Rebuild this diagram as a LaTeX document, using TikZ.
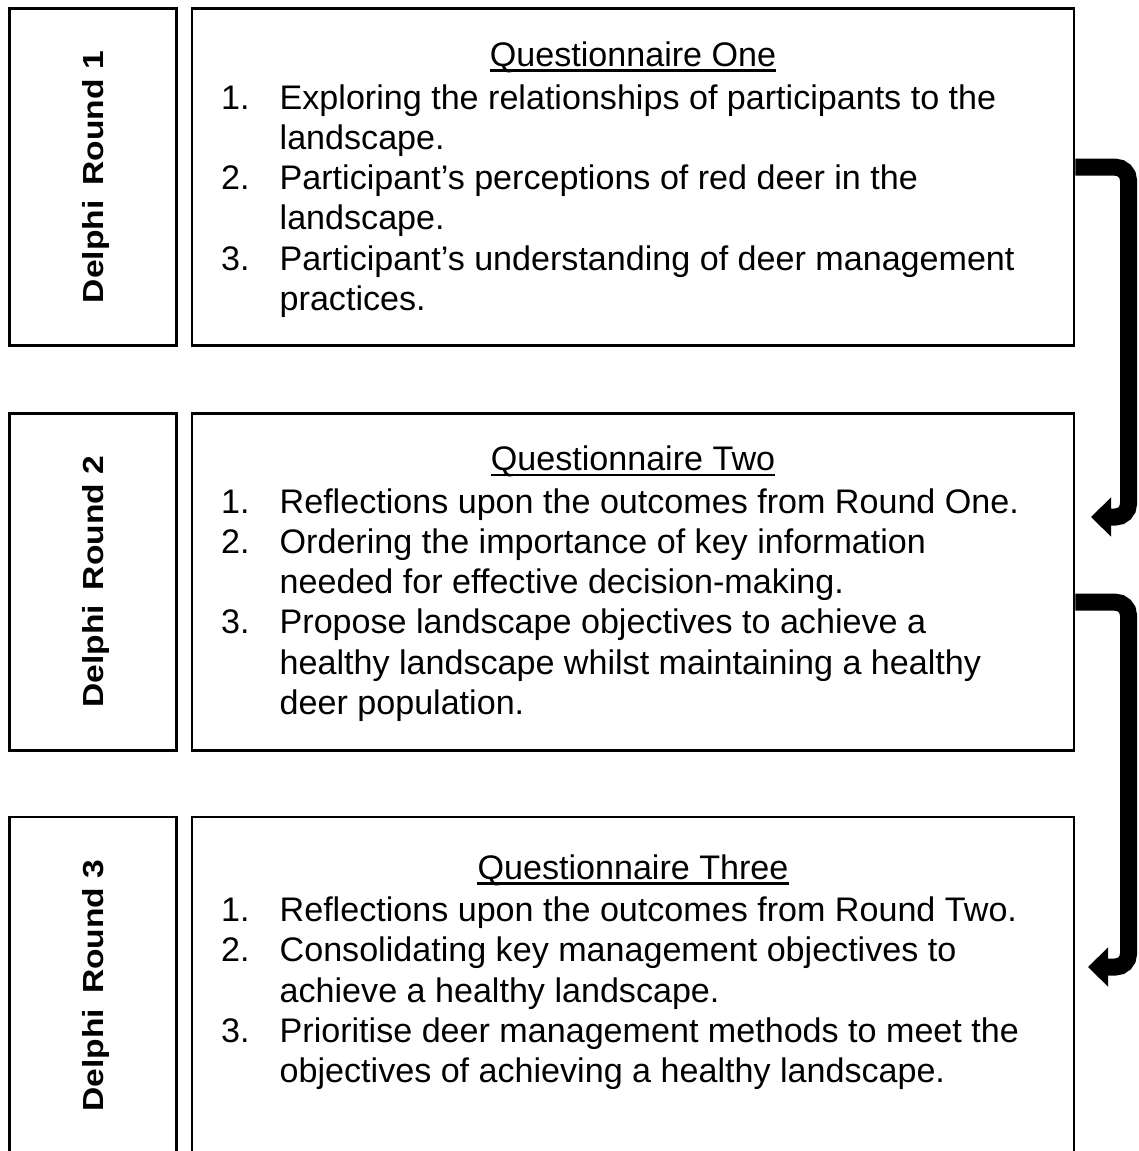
\documentclass[tikz,border=0pt]{standalone}
\usepackage{fontspec}
\setmainfont{Liberation Sans}
\usetikzlibrary{arrows.meta}

% one numbered item with a hanging indent; lines are broken with \newline
\newcommand\qitem[2]{\par\hangindent=58.5pt\hangafter=1\noindent\makebox[58.5pt][l]{#1}#2\par}
% body of a questionnaire box
\newcommand\qbody[1]{%
  \begin{minipage}[t]{880pt}\raggedright
    \fontsize{34.1pt}{40.3pt}\selectfont\parskip=0pt #1
  \end{minipage}}

\begin{document}
\begin{tikzpicture}[x=1pt,y=-1pt,
  frame/.style={draw=black, line width=2.6pt, inner sep=0pt, minimum height=337pt},
  roundbox/.style={frame, minimum width=167pt},
  qbox/.style={frame, minimum width=882pt},
  roundlabel/.style={rotate=90, anchor=base, inner sep=0pt,
    font=\fontsize{29pt}{34pt}\selectfont\bfseries},
  qtitle/.style={anchor=base, inner sep=0pt, font=\fontsize{34.1pt}{40.3pt}\selectfont},
  qlist/.style={anchor=base west, inner sep=0pt},
  uline/.style={line width=2.2pt},
  flow/.style={line width=17pt, rounded corners=13pt,
    -{Triangle[length=20pt,width=38pt]}}
]
\useasboundingbox (0,0) rectangle (1138,1151);

% ---- round 1 ----
\node[roundbox] (r1) at (92.8,177.2) {};
\node[qbox] (q1) at (633,177.2) {};
\node[roundlabel] (d1) at (103,177.2) {\resizebox{252pt}{\height}{Delphi\hspace{0.45em}Round 1}};
\node[qtitle] (t1) at (633,66) {Questionnaire One};
\draw[uline] ([yshift=-4.5pt]t1.base west) -- ([yshift=-4.5pt]t1.base east);
\node[qlist] (l1) at (221,109) {\qbody{%
  \qitem{1.}{Exploring the relationships of participants to the\newline landscape.}
  \qitem{2.}{Participant’s perceptions of red deer in the\newline landscape.}
  \qitem{3.}{Participant’s understanding of deer management\newline practices.}}};

% ---- round 2 ----
\node[roundbox] (r2) at (92.8,581.7) {};
\node[qbox] (q2) at (633,581.7) {};
\node[roundlabel] (d2) at (103,581.7) {\resizebox{252pt}{\height}{Delphi\hspace{0.45em}Round 2}};
\node[qtitle] (t2) at (633,470.5) {Questionnaire Two};
\draw[uline] ([yshift=-4.5pt]t2.base west) -- ([yshift=-4.5pt]t2.base east);
\node[qlist] (l2) at (221,513) {\qbody{%
  \qitem{1.}{Reflections upon the outcomes from Round One.}
  \qitem{2.}{Ordering the importance of key information\newline needed for effective decision-making.}
  \qitem{3.}{Propose landscape objectives to achieve a\newline healthy landscape whilst maintaining a healthy\newline deer population.}}};

% ---- round 3 ----
\node[roundbox] (r3) at (92.8,985.5) {};
\node[qbox] (q3) at (633,985.5) {};
\node[roundlabel] (d3) at (103,985.5) {\resizebox{252pt}{\height}{Delphi\hspace{0.45em}Round 3}};
\node[qtitle] (t3) at (633,879) {Questionnaire Three};
\draw[uline] ([yshift=-4.5pt]t3.base west) -- ([yshift=-4.5pt]t3.base east);
\node[qlist] (l3) at (221,921.5) {\qbody{%
  \qitem{1.}{Reflections upon the outcomes from Round Two.}
  \qitem{2.}{Consolidating key management objectives to\newline achieve a healthy landscape.}
  \qitem{3.}{Prioritise deer management methods to meet the\newline objectives of achieving a healthy landscape.}}};

% ---- connectors between rounds ----
\coordinate (c1) at (1128.5,517);
\coordinate (e1) at (1091,517);
\coordinate (c2) at (1128.5,967);
\coordinate (e2) at (1088,967);
\draw[flow] ([yshift=10pt]q1.east) -| (c1) -- (e1);
\draw[flow] ([yshift=-20.5pt]q2.east) -| (c2) -- (e2);
\end{tikzpicture}
\end{document}
